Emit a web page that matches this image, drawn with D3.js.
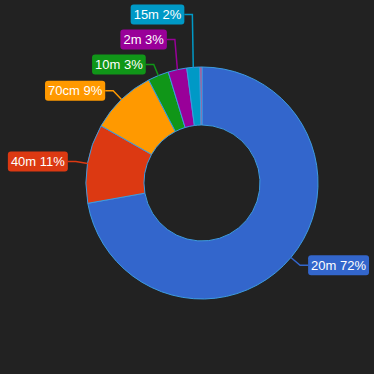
<!DOCTYPE html>
<html lang="en">
<head>
<meta charset="UTF-8">
<title>Bands</title>
<style>
  html, body { margin: 0; padding: 0; background: #222222; }
  svg { display: block; }
  text { font-family: "Liberation Sans", Arial, sans-serif; }
</style>
</head>
<body>
<div id="chart"></div>
<script src="https://cdn.jsdelivr.net/npm/d3@7"></script>
<script>
  // data
  var bands = ["20m", "40m", "70cm", "10m", "2m", "15m", "6m"];
  var shares = [72.2, 11.0, 9.2, 2.9, 2.6, 1.8, 0.3];
  var colors = ["#3366cc", "#dc3912", "#ff9900", "#109618", "#990099", "#0099c6", "#dd4477"];

  var width = 374, height = 374;
  var cx = 202, cy = 183;
  var outer = 116, inner = 58;
  var elbowR = 128, gap = 8, boxH = 20, minStep = 25;

  var data = bands.map(function(b, i) { return { band: b, value: shares[i], color: colors[i] }; });
  var total = d3.sum(shares);

  var svg = d3.select("#chart").append("svg")
    .attr("width", width).attr("height", height);

  var g = svg.append("g").attr("transform", "translate(" + cx + "," + cy + ")");

  var pie = d3.pie().sort(null).value(function(d) { return d.value; });
  var arc = d3.arc().innerRadius(inner).outerRadius(outer);
  var arcs = pie(data);

  g.selectAll("path.slice")
    .data(arcs)
    .enter().append("path")
    .attr("class", "slice")
    .attr("d", arc)
    .attr("fill", function(d) { return d.data.color; })
    .attr("stroke", "#3d9be0")
    .attr("stroke-width", 1);

  // label anchors: ring point, elbow, then push apart vertically
  var labels = arcs.filter(function(d) { return d.data.value / total >= 0.01; }).map(function(d) {
    var a = (d.startAngle + d.endAngle) / 2;
    return {
      d: d,
      right: Math.sin(a) >= 0,
      px: outer * Math.sin(a), py: -outer * Math.cos(a),
      ex: elbowR * Math.sin(a), ey: -elbowR * Math.cos(a)
    };
  });
  labels.forEach(function(l) { l.y = l.ey; });

  // left side: go from bottom to top, push upward
  var left = labels.filter(function(l) { return !l.right; }).sort(function(a, b) { return b.ey - a.ey; });
  for (var i = 1; i < left.length; i++) {
    if (left[i].y > left[i - 1].y - minStep) left[i].y = left[i - 1].y - minStep;
  }
  var right = labels.filter(function(l) { return l.right; }).sort(function(a, b) { return a.ey - b.ey; });
  for (var j = 1; j < right.length; j++) {
    if (right[j].y < right[j - 1].y + minStep) right[j].y = right[j - 1].y + minStep;
  }

  var lab = g.selectAll("g.label")
    .data(labels)
    .enter().append("g")
    .attr("class", "label");

  lab.append("path")
    .attr("fill", "none")
    .attr("stroke", function(l) { return l.d.data.color; })
    .attr("stroke-width", 1.5)
    .attr("d", function(l) {
      var endX = l.right ? l.ex + gap : l.ex - gap;
      return "M" + l.px + "," + l.py + "L" + l.ex + "," + l.y + "L" + endX + "," + l.y;
    });

  var rects = lab.append("rect")
    .attr("rx", 3).attr("ry", 3)
    .attr("height", boxH)
    .attr("fill", function(l) { return l.d.data.color; });

  var texts = lab.append("text")
    .attr("fill", "#ffffff")
    .attr("font-size", 13)
    .attr("dy", "0.35em")
    .text(function(l) {
      return l.d.data.band + " " + Math.round(l.d.data.value / total * 100) + "%";
    });

  texts.each(function(l) {
    var w = this.getComputedTextLength() + 6;
    var x0 = l.right ? l.ex + gap : l.ex - gap - w;
    d3.select(this).attr("x", x0 + 3).attr("y", l.y);
    l.box = { x: x0, w: w };
  });
  rects
    .attr("x", function(l) { return l.box.x; })
    .attr("y", function(l) { return l.y - boxH / 2; })
    .attr("width", function(l) { return l.box.w; });
</script>
</body>
</html>
